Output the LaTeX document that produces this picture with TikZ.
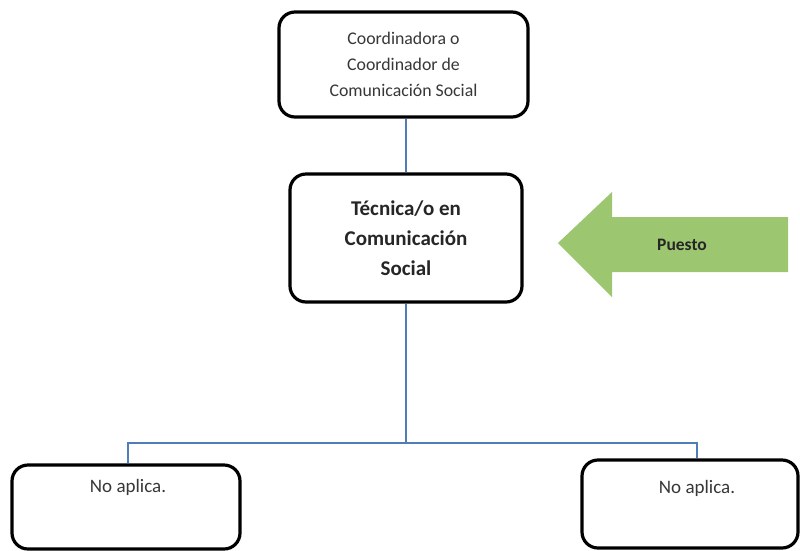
\documentclass[tikz,border=0pt]{standalone}
\usepackage{fontspec}
\setmainfont{Carlito}
\definecolor{linkblue}{RGB}{79,125,181}
\definecolor{arrowgreen}{RGB}{157,198,112}
\definecolor{txtgray}{RGB}{55,55,55}
\tikzset{
  orgbox/.style={draw=black, line width=3.2pt, rounded corners=16pt, fill=white, align=center, inner sep=0pt},
  link/.style={draw=linkblue, line width=1.4pt},
}
\begin{document}
\begin{tikzpicture}[x=1pt,y=-1pt]
\useasboundingbox (0,0) rectangle (800,550);
% boxes
\node[orgbox, minimum width=249pt, minimum height=105pt, text=txtgray,
      font=\fontsize{17.8}{26}\selectfont] (top) at (403.5,64.5)
  {Coordinadora o\\Coordinador de\\Comunicación Social};
\node[orgbox, minimum width=232pt, minimum height=128pt, text=black!85,
      font=\fontsize{21}{30}\selectfont\bfseries] (mid) at (406,238)
  {Técnica/o en\\Comunicación\\Social};
\node[orgbox, minimum width=228pt, minimum height=84pt] (left) at (126,507) {};
\node[orgbox, minimum width=216pt, minimum height=88pt] (right) at (690,504) {};
\node[text=txtgray, font=\fontsize{19}{22}\selectfont, anchor=center] (lefttxt) at (128,487) {No aplica.};
\node[text=txtgray, font=\fontsize{19}{22}\selectfont, anchor=center] (righttxt) at (697,488) {No aplica.};
% connectors
\coordinate (bus) at (406,443);
\draw[link] (mid.north) -- (mid.north |- top.south);
\draw[link] (mid.south) -- (bus);
\draw[link] ([xshift=2pt]left.north) |- (bus) -| ([xshift=7pt]right.north);
% arrow
\fill[arrowgreen] (558,243) -- (612,192) -- (612,217) -- (788,217) -- (788,272) -- (612,272) -- (612,297) -- cycle;
\node[font=\fontsize{17.5}{20}\selectfont\bfseries, text=black!85] (puesto) at (682,245) {Puesto};
\end{tikzpicture}
\end{document}
